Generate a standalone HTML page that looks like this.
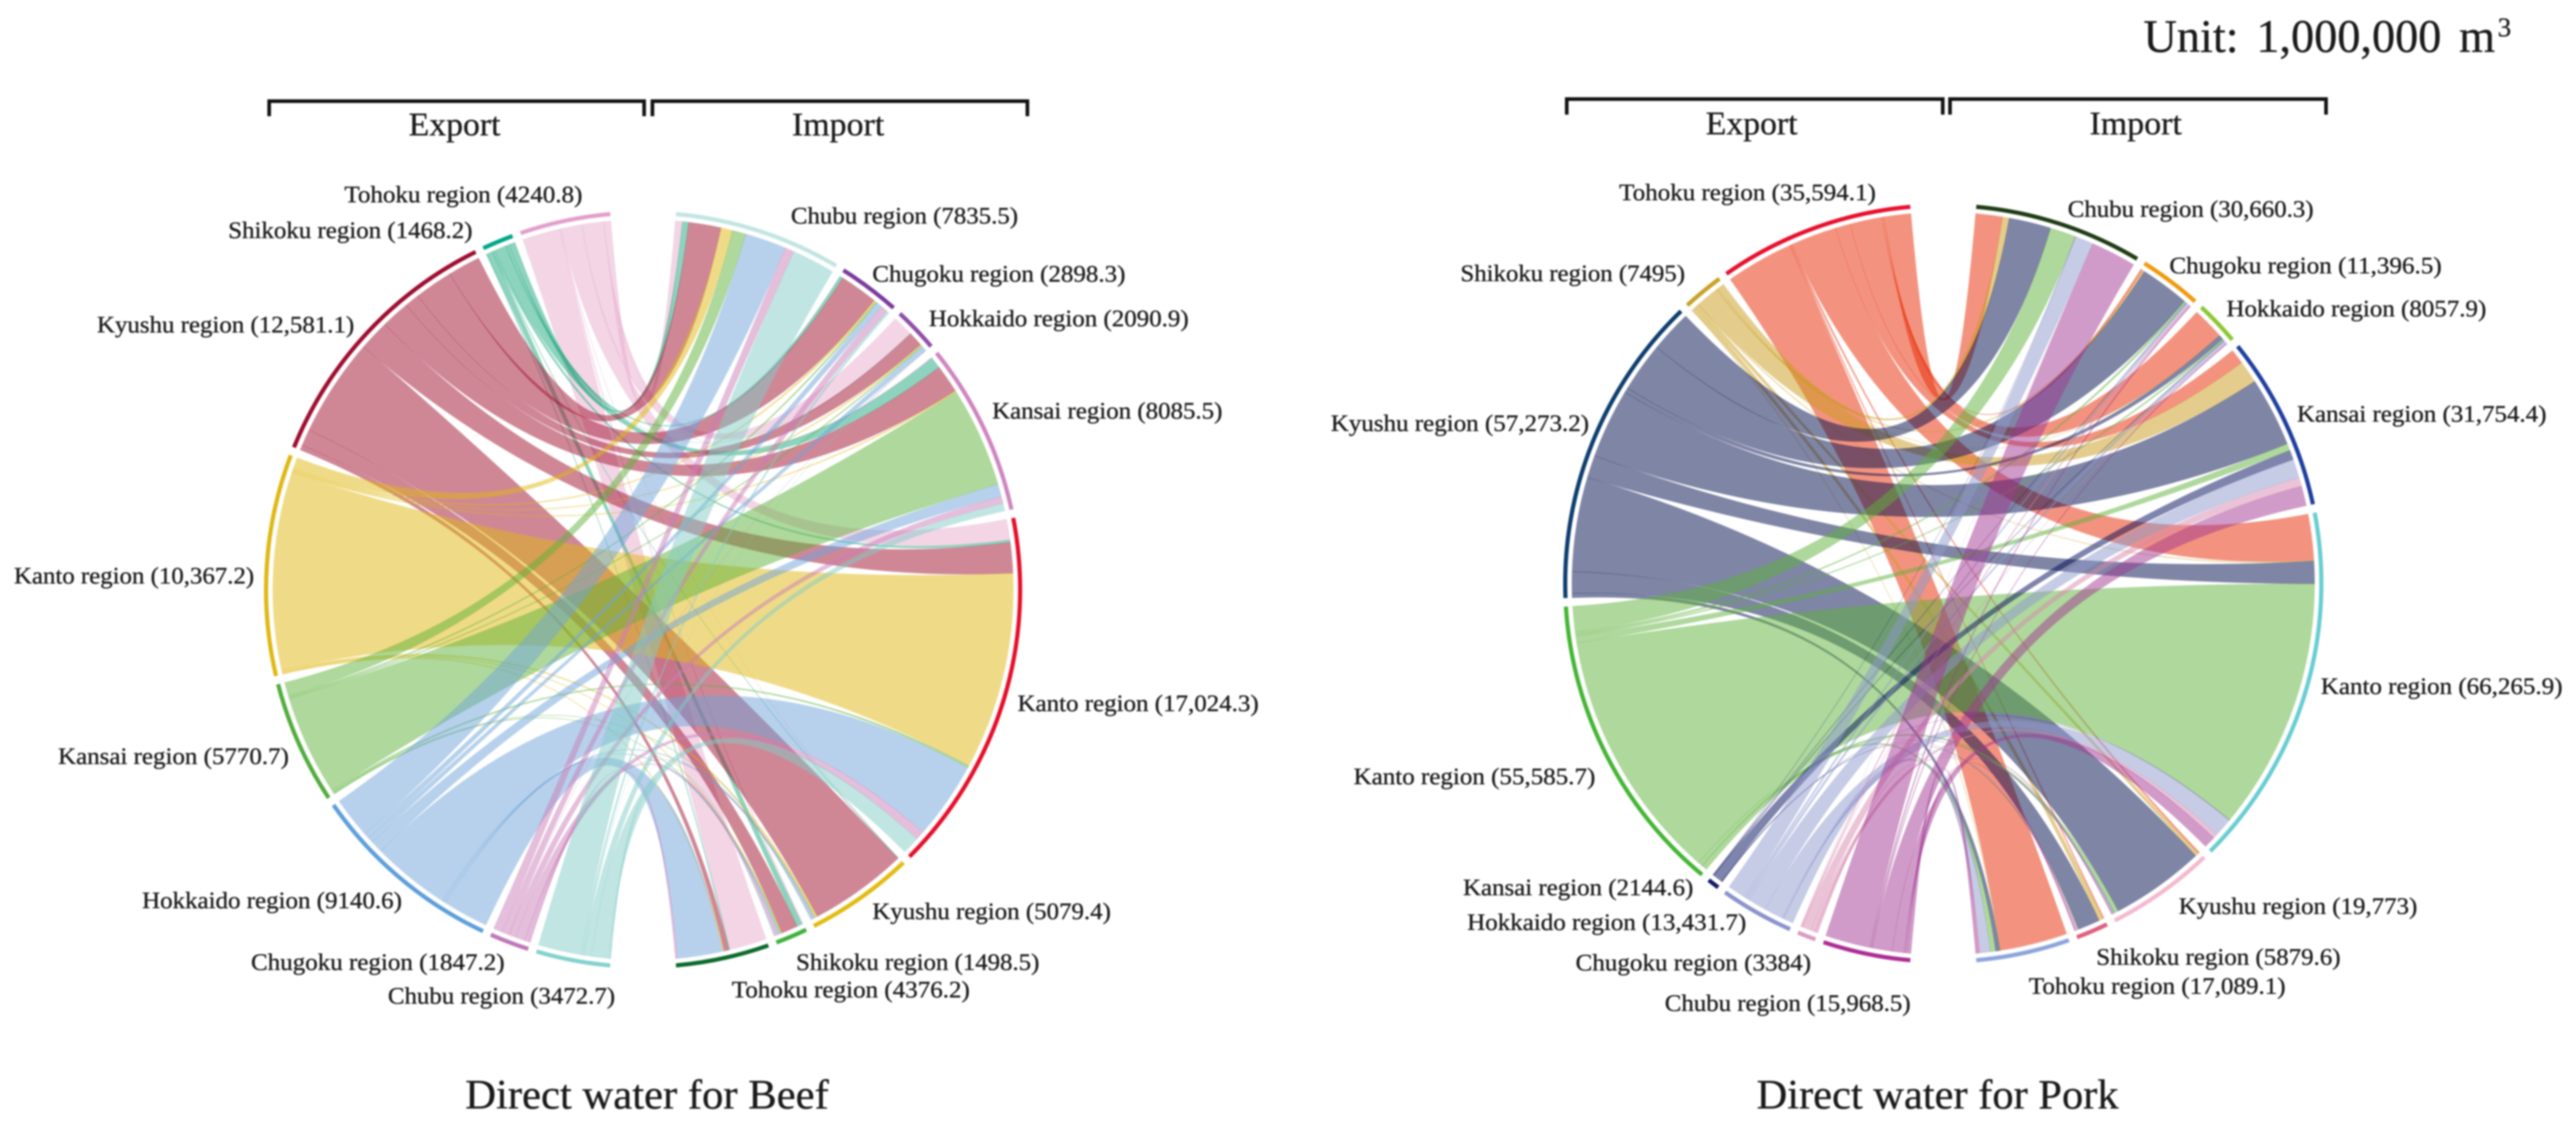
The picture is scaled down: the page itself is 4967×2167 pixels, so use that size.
<!DOCTYPE html>
<html lang="en">
<head>
<meta charset="utf-8">
<title>Direct water chord diagrams</title>
<style>
html,body{margin:0;padding:0;background:#fff;overflow:hidden;}
svg{display:block;filter:blur(1.5px);}
text{font-family:"Liberation Serif",serif;fill:#1a1a1a;stroke:#1a1a1a;stroke-width:0.6px;}
.lbl{font-size:45px;}
.hdr{font-size:63px;}
.ttl{font-size:80px;}
</style>
</head>
<body>
<svg id="figure" xmlns="http://www.w3.org/2000/svg" width="4967" height="2167" viewBox="0 0 4967 2167">
  <rect width="4967" height="2167" fill="#fff"/>
  <text x="4133" y="100" font-size="90" word-spacing="12" textLength="678" lengthAdjust="spacingAndGlyphs">Unit: 1,000,000 m</text>
  <text x="4816" y="70" font-size="52">3</text>

  <g id="beef-chart"></g>
  <g id="pork-chart"></g>

  <g fill="none" stroke="#111" stroke-width="7">
    <path d="M519 224V195H1242V224"/>
    <path d="M1258 224V195H1981V224"/>
  </g>
  <text class="hdr" x="788" y="261" textLength="177" lengthAdjust="spacingAndGlyphs">Export</text>
  <text class="hdr" x="1527" y="261" textLength="178" lengthAdjust="spacingAndGlyphs">Import</text>

  <g fill="none" stroke="#111" stroke-width="7">
    <path d="M3021 221V191H3746V221"/>
    <path d="M3760 221V191H4485V221"/>
  </g>
  <text class="hdr" x="3289" y="259" textLength="177" lengthAdjust="spacingAndGlyphs">Export</text>
  <text class="hdr" x="4029" y="259" textLength="178" lengthAdjust="spacingAndGlyphs">Import</text>

  <g>
    <text class="lbl" x="664" y="390" textLength="459" lengthAdjust="spacingAndGlyphs">Tohoku region (4240.8)</text>
    <text class="lbl" x="440" y="459" textLength="471" lengthAdjust="spacingAndGlyphs">Shikoku region (1468.2)</text>
    <text class="lbl" x="187" y="641" textLength="496" lengthAdjust="spacingAndGlyphs">Kyushu region (12,581.1)</text>
    <text class="lbl" x="27" y="1125" textLength="463" lengthAdjust="spacingAndGlyphs">Kanto region (10,367.2)</text>
    <text class="lbl" x="112" y="1473" textLength="445" lengthAdjust="spacingAndGlyphs">Kansai region (5770.7)</text>
    <text class="lbl" x="274" y="1751" textLength="501" lengthAdjust="spacingAndGlyphs">Hokkaido region (9140.6)</text>
    <text class="lbl" x="484" y="1870" textLength="489" lengthAdjust="spacingAndGlyphs">Chugoku region (1847.2)</text>
    <text class="lbl" x="748" y="1935" textLength="438" lengthAdjust="spacingAndGlyphs">Chubu region (3472.7)</text>
    <text class="lbl" x="1525" y="431" textLength="438" lengthAdjust="spacingAndGlyphs">Chubu region (7835.5)</text>
    <text class="lbl" x="1682" y="543" textLength="488" lengthAdjust="spacingAndGlyphs">Chugoku region (2898.3)</text>
    <text class="lbl" x="1791" y="629" textLength="501" lengthAdjust="spacingAndGlyphs">Hokkaido region (2090.9)</text>
    <text class="lbl" x="1913" y="807" textLength="444" lengthAdjust="spacingAndGlyphs">Kansai region (8085.5)</text>
    <text class="lbl" x="1962" y="1371" textLength="465" lengthAdjust="spacingAndGlyphs">Kanto region (17,024.3)</text>
    <text class="lbl" x="1682" y="1772" textLength="460" lengthAdjust="spacingAndGlyphs">Kyushu region (5079.4)</text>
    <text class="lbl" x="1535" y="1870" textLength="469" lengthAdjust="spacingAndGlyphs">Shikoku region (1498.5)</text>
    <text class="lbl" x="1411" y="1923" textLength="459" lengthAdjust="spacingAndGlyphs">Tohoku region (4376.2)</text>
  </g>

  <g>
    <text class="lbl" x="3122" y="386" textLength="495" lengthAdjust="spacingAndGlyphs">Tohoku region (35,594.1)</text>
    <text class="lbl" x="2816" y="542" textLength="433" lengthAdjust="spacingAndGlyphs">Shikoku region (7495)</text>
    <text class="lbl" x="2566" y="831" textLength="498" lengthAdjust="spacingAndGlyphs">Kyushu region (57,273.2)</text>
    <text class="lbl" x="2610" y="1512" textLength="466" lengthAdjust="spacingAndGlyphs">Kanto region (55,585.7)</text>
    <text class="lbl" x="2821" y="1726" textLength="444" lengthAdjust="spacingAndGlyphs">Kansai region (2144.6)</text>
    <text class="lbl" x="2829" y="1793" textLength="538" lengthAdjust="spacingAndGlyphs">Hokkaido region (13,431.7)</text>
    <text class="lbl" x="3038" y="1871" textLength="454" lengthAdjust="spacingAndGlyphs">Chugoku region (3384)</text>
    <text class="lbl" x="3210" y="1949" textLength="474" lengthAdjust="spacingAndGlyphs">Chubu region (15,968.5)</text>
    <text class="lbl" x="3987" y="418" textLength="474" lengthAdjust="spacingAndGlyphs">Chubu region (30,660.3)</text>
    <text class="lbl" x="4183" y="527" textLength="525" lengthAdjust="spacingAndGlyphs">Chugoku region (11,396.5)</text>
    <text class="lbl" x="4293" y="610" textLength="501" lengthAdjust="spacingAndGlyphs">Hokkaido region (8057.9)</text>
    <text class="lbl" x="4429" y="813" textLength="481" lengthAdjust="spacingAndGlyphs">Kansai region (31,754.4)</text>
    <text class="lbl" x="4475" y="1338" textLength="466" lengthAdjust="spacingAndGlyphs">Kanto region (66,265.9)</text>
    <text class="lbl" x="4201" y="1762" textLength="460" lengthAdjust="spacingAndGlyphs">Kyushu region (19,773)</text>
    <text class="lbl" x="4042" y="1860" textLength="471" lengthAdjust="spacingAndGlyphs">Shikoku region (5879.6)</text>
    <text class="lbl" x="3912" y="1916" textLength="495" lengthAdjust="spacingAndGlyphs">Tohoku region (17,089.1)</text>
  </g>

  <text class="ttl" x="897" y="2137" textLength="701" lengthAdjust="spacingAndGlyphs">Direct water for Beef</text>
  <text class="ttl" x="3387" y="2137" textLength="698" lengthAdjust="spacingAndGlyphs">Direct water for Pork</text>
</svg>

<script>
// Region order: exports run down the left side, imports run down the right side.
const exportRegions = ['tohoku', 'shikoku', 'kyushu', 'kanto', 'kansai', 'hokkaido', 'chugoku', 'chubu'];
const importRegions = ['chubu', 'chugoku', 'hokkaido', 'kansai', 'kanto', 'kyushu', 'shikoku', 'tohoku'];

// Beef flows: one array per exporting region, values follow importRegions order.
const beefFromTohoku   = [330, 20, 1000, 50, 980, 20, 60, 1780];
const beefFromShikoku  = [300, 150, 15, 550, 120, 30, 260, 40];
const beefFromKyushu   = [1550, 1820, 696, 1350, 1460, 4689, 790, 236];
const beefFromKanto    = [540, 90, 60, 60, 9400, 100, 50, 60];
const beefFromKansai   = [660, 80, 60, 4780, 100, 40, 50, 0];
const beefFromHokkaido = [1960, 280, 240, 600, 3700, 100, 100, 2160];
const beefFromChugoku  = [440, 340, 10, 330, 430, 50, 150, 100];
const beefFromChubu    = [2055, 118, 10, 365, 837, 50, 38, 0];

// Pork flows: same layout.
const porkFromTohoku   = [5000, 400, 5900, 2800, 8500, 300, 200, 12494];
const porkFromShikoku  = [1218, 350, 80, 4170, 150, 627, 800, 100];
const porkFromKyushu   = [7800, 9200, 900, 12900, 4200, 17473, 4000, 800];
const porkFromKanto    = [4800, 400, 300, 1305, 46874, 800, 100, 1000];
const porkFromKansai   = [40, 80, 100, 1775, 50, 50, 50, 0];
const porkFromHokkaido = [3400, 400, 500, 3500, 3526, 200, 100, 1806];
const porkFromChugoku  = [20, 300, 100, 1600, 765, 100, 300, 199];
const porkFromChubu    = [8382, 266, 178, 3700, 2200, 223, 330, 690];

// Colours.
const beefExportRing = ['#e39fcb', '#00a888', '#a00e30', '#e0b812', '#52ad3c', '#5e9fdc', '#c078ba', '#82d2cd'];
const beefImportRing = ['#c2e5e3', '#7a3b9e', '#8f4fa8', '#cf86c0', '#e60f2a', '#e3bb10', '#3fb23f', '#0c6b2c'];
const beefRibbon     = ['#e7abcd', '#1ba77b', '#a00f2e', '#e0b80f', '#5db139', '#6fa3d9', '#c97db7', '#81cbc7'];
const porkExportRing = ['#e8112d', '#c9a227', '#0e3e6e', '#45b535', '#141a66', '#8c93cc', '#d99cc4', '#ad2d96'];
const porkImportRing = ['#1f3d14', '#f09a10', '#8cc832', '#1f3f9e', '#68cdd2', '#f5b8cf', '#e0607f', '#8ca5dc'];
const porkRibbon     = ['#e72700', '#c99b19', '#000b4b', '#5db139', '#000a5a', '#8d97cd', '#d787af', '#a13791'];

const SVG_NS = 'http://www.w3.org/2000/svg';
const sum = function (a) { return a.reduce(function (p, c) { return p + c; }, 0); };
const rad = function (d) { return d * Math.PI / 180; };

function drawChord(host, prefix, geo, flows, exportRing, importRing, ribbon) {
  const topGap = 5, pad = 1.3, span = 170;
  const total = sum(flows.map(sum));
  const scale = (span - pad * (flows.length - 1)) / total;

  // side = -1 for export (left), +1 for import (right); angle measured from the top.
  const pt = function (side, angle, r) {
    return [geo.cx + side * r * Math.sin(rad(angle)), geo.cy - r * Math.cos(rad(angle))];
  };

  const rowTotals = flows.map(sum);
  const colTotals = importRegions.map(function (_, j) {
    return sum(flows.map(function (row) { return row[j]; }));
  });

  // Angular ranges of the export groups and the import groups.
  const layout = function (totals) {
    let a = topGap;
    return totals.map(function (v) {
      const range = [a, a + v * scale];
      a += v * scale + pad;
      return range;
    });
  };
  const exportGroups = layout(rowTotals);
  const importGroups = layout(colTotals);

  // Running sub-positions within each group.
  const exportCursor = exportGroups.map(function (g) { return g[0]; });
  const importCursor = importGroups.map(function (g) { return g[0]; });

  const exportSpans = flows.map(function () { return []; });
  flows.forEach(function (row, i) {
    row.forEach(function (v, j) {
      exportSpans[i][j] = [exportCursor[i], exportCursor[i] + v * scale];
      exportCursor[i] += v * scale;
    });
  });
  const importSpans = flows.map(function () { return []; });
  importRegions.forEach(function (_, j) {
    flows.forEach(function (row, i) {
      importSpans[i][j] = [importCursor[j], importCursor[j] + row[j] * scale];
      importCursor[j] += row[j] * scale;
    });
  });

  const R = geo.chordR;
  flows.forEach(function (row, i) {
    row.forEach(function (v, j) {
      if (v <= 0) { return; }
      const e = exportSpans[i][j], m = importSpans[i][j];
      const e0 = pt(-1, e[0], R), e1 = pt(-1, e[1], R);
      const m0 = pt(1, m[0], R), m1 = pt(1, m[1], R);
      const d = 'M' + e0[0] + ' ' + e0[1] +
        'A' + R + ' ' + R + ' 0 0 0 ' + e1[0] + ' ' + e1[1] +
        'Q' + geo.cx + ' ' + geo.cy + ' ' + m1[0] + ' ' + m1[1] +
        'A' + R + ' ' + R + ' 0 0 0 ' + m0[0] + ' ' + m0[1] +
        'Q' + geo.cx + ' ' + geo.cy + ' ' + e0[0] + ' ' + e0[1] + 'Z';
      const el = document.createElementNS(SVG_NS, 'path');
      el.setAttribute('d', d);
      el.setAttribute('fill', ribbon[i]);
      el.setAttribute('fill-opacity', '0.5');
      el.setAttribute('stroke', ribbon[i]);
      el.setAttribute('stroke-opacity', '0.2');
      el.setAttribute('stroke-width', '1');
      
      
      host.appendChild(el);
    });
  });

  const arc = function (side, range, colour, name) {
    const r = geo.ringR;
    const a = pt(side, range[0], r), b = pt(side, range[1], r);
    const el = document.createElementNS(SVG_NS, 'path');
    el.setAttribute('d', 'M' + a[0] + ' ' + a[1] + 'A' + r + ' ' + r + ' 0 0 ' + (side > 0 ? 1 : 0) + ' ' + b[0] + ' ' + b[1]);
    el.setAttribute('fill', 'none');
    el.setAttribute('stroke', colour);
    el.setAttribute('stroke-width', geo.ringW);
    
    
    host.appendChild(el);
  };
  exportGroups.forEach(function (g, i) { arc(-1, g, exportRing[i], prefix + '-export-arc-' + exportRegions[i]); });
  importGroups.forEach(function (g, j) { arc(1, g, importRing[j], prefix + '-import-arc-' + importRegions[j]); });
}

drawChord(
  document.getElementById('beef-chart'), 'beef',
  { cx: 1240, cy: 1137, chordR: 714, ringR: 727, ringW: 8 },
  [beefFromTohoku, beefFromShikoku, beefFromKyushu, beefFromKanto, beefFromKansai, beefFromHokkaido, beefFromChugoku, beefFromChubu],
  beefExportRing, beefImportRing, beefRibbon
);
drawChord(
  document.getElementById('pork-chart'), 'pork',
  { cx: 3747, cy: 1125, chordR: 716, ringR: 729, ringW: 8 },
  [porkFromTohoku, porkFromShikoku, porkFromKyushu, porkFromKanto, porkFromKansai, porkFromHokkaido, porkFromChugoku, porkFromChubu],
  porkExportRing, porkImportRing, porkRibbon
);
</script>
</body>
</html>
